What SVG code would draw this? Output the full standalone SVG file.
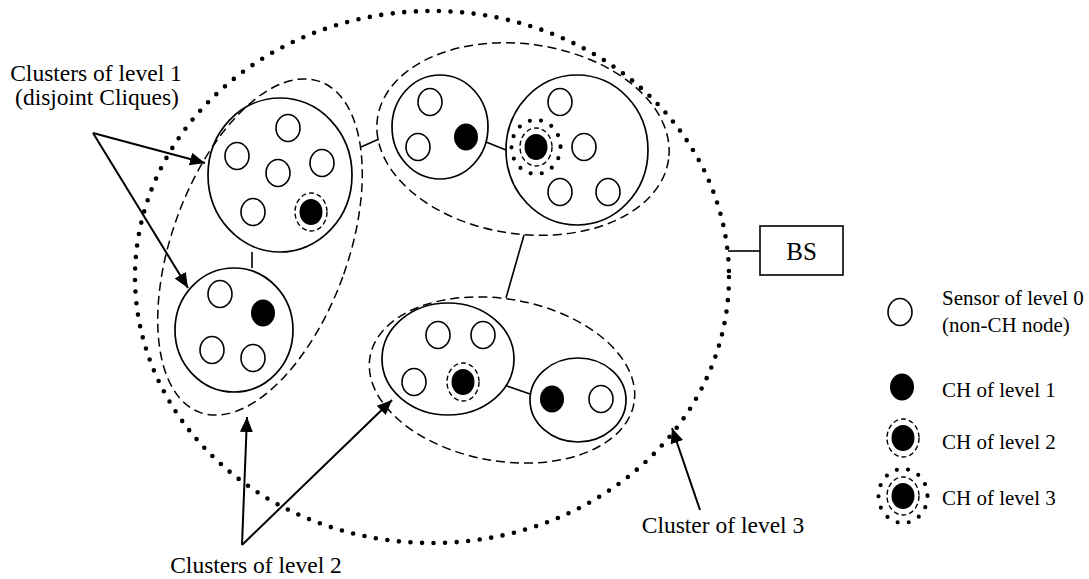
<svg xmlns="http://www.w3.org/2000/svg" width="1089" height="579" viewBox="0 0 1089 579">
<style>
  .txt{font-family:"Liberation Serif","Times New Roman",serif;fill:#000}
  .lbl{font-size:23.5px;text-anchor:middle}
  .leg{font-size:21px}
  .solid{fill:none;stroke:#000;stroke-width:1.7}
  .dash{fill:none;stroke:#000;stroke-width:1.5;stroke-dasharray:9 5}
  .dots{fill:none;stroke:#000;stroke-width:4.6;stroke-linecap:round;stroke-dasharray:0 11.6}
  .sensor{fill:#fff;stroke:#000;stroke-width:1.6}
  .ch{fill:#000}
  .ring2{fill:none;stroke:#000;stroke-width:1.4;stroke-dasharray:5 3}
  .ring3{fill:none;stroke:#000;stroke-width:4.2;stroke-linecap:round;stroke-dasharray:0 11.45}
  .link{stroke:#000;stroke-width:1.6;fill:none}
  .arrow{stroke:#000;stroke-width:2;fill:none;marker-end:url(#ah)}
</style>
<defs>
  <marker id="ah" markerUnits="userSpaceOnUse" markerWidth="16" markerHeight="14" refX="15" refY="6.5" orient="auto">
    <path d="M0,0 L15,6.5 L0,13 z" fill="#000"/>
  </marker>
  <g id="sensor"><ellipse rx="12" ry="13.5" class="sensor"/></g>
  <g id="ch1"><ellipse rx="12" ry="13.5" class="ch"/></g>
  <g id="ch2"><ellipse rx="11.5" ry="13" class="ch"/><ellipse rx="16" ry="19" class="ring2"/></g>
  <g id="ch3"><ellipse rx="11.5" ry="13" class="ch"/><ellipse rx="16" ry="19" class="ring2"/><ellipse rx="24.5" ry="27" class="ring3"/></g>
</defs>
<rect width="1089" height="579" fill="#fff"/>

<g id="cluster-level3">
  <ellipse cx="432" cy="277" rx="297" ry="266" class="dots"/>
</g>

<g id="bs">
  <rect x="760" y="226" width="83" height="49" fill="#fff" stroke="#000" stroke-width="1.6"/>
  <text x="801.5" y="260" class="txt" font-size="25" text-anchor="middle">BS</text>
</g>

<g id="cluster-level2-left">
  <ellipse cx="260" cy="247" rx="88" ry="176" transform="rotate(20 260 247)" class="dash"/>
</g>
<g id="cluster-level2-top">
  <ellipse cx="523" cy="139" rx="147" ry="95" transform="rotate(8 523 139)" class="dash"/>
</g>
<g id="cluster-level2-bottom">
  <ellipse cx="502" cy="380" rx="134" ry="81" transform="rotate(10 502 380)" class="dash"/>
</g>

<g id="clique-a">
  <ellipse cx="280" cy="175" rx="72" ry="77" class="solid"/>
  <use href="#sensor" x="288" y="128"/>
  <use href="#sensor" x="237" y="156"/>
  <use href="#sensor" x="322" y="163"/>
  <use href="#sensor" x="278" y="173"/>
  <use href="#sensor" x="253" y="212"/>
  <use href="#ch2" x="311" y="212"/>
</g>
<g id="clique-b">
  <ellipse cx="234" cy="330" rx="59" ry="62" class="solid"/>
  <use href="#sensor" x="220" y="294"/>
  <use href="#ch1" x="263" y="313"/>
  <use href="#sensor" x="212" y="350"/>
  <use href="#sensor" x="253" y="358"/>
</g>
<g id="clique-c">
  <ellipse cx="440" cy="127" rx="48" ry="52" class="solid"/>
  <use href="#sensor" x="430" y="102"/>
  <use href="#sensor" x="418" y="147"/>
  <use href="#ch1" x="466" y="137"/>
</g>
<g id="clique-d">
  <ellipse cx="577" cy="150" rx="71" ry="75" class="solid"/>
  <use href="#sensor" x="560" y="102"/>
  <use href="#ch3" x="536" y="147"/>
  <use href="#sensor" x="584" y="147"/>
  <use href="#sensor" x="560" y="192"/>
  <use href="#sensor" x="608" y="192"/>
</g>
<g id="clique-e">
  <ellipse cx="448" cy="359" rx="66" ry="56" class="solid"/>
  <use href="#sensor" x="438" y="335"/>
  <use href="#sensor" x="483" y="335"/>
  <use href="#sensor" x="414" y="382"/>
  <use href="#ch2" x="463" y="382"/>
</g>
<g id="clique-f">
  <ellipse cx="578" cy="400" rx="48" ry="42" class="solid"/>
  <use href="#ch1" x="552" y="399"/>
  <use href="#sensor" x="601" y="399"/>
</g>

<g id="connectors">
  <line x1="252" y1="252" x2="252" y2="268" class="link"/>
  <line x1="486" y1="142" x2="506" y2="150" class="link"/>
  <line x1="507" y1="386" x2="530" y2="394" class="link"/>
  <line x1="361" y1="147" x2="379" y2="139" class="link"/>
  <line x1="524" y1="235" x2="506" y2="298" class="link"/>
  <line x1="728" y1="251" x2="760" y2="251" class="link"/>
  <line x1="93" y1="133" x2="205" y2="163" class="arrow"/>
  <line x1="93" y1="133" x2="188" y2="288" class="arrow"/>
  <line x1="242" y1="545" x2="247" y2="417" class="arrow"/>
  <line x1="242" y1="545" x2="392" y2="400" class="arrow"/>
  <line x1="700" y1="510" x2="672" y2="428" class="arrow"/>
</g>

<g id="labels" class="txt">
  <text x="96" y="81" class="lbl">Clusters of level 1</text>
  <text x="97" y="105" class="lbl">(disjoint Cliques)</text>
  <text x="256" y="573" class="lbl">Clusters of level 2</text>
  <text x="723" y="533" class="lbl">Cluster of level 3</text>
</g>

<g id="legend" class="txt">
  <use href="#sensor" x="900" y="312"/>
  <text x="942" y="305" class="leg">Sensor of level 0</text>
  <text x="942" y="332" class="leg">(non-CH node)</text>
  <use href="#ch1" x="902" y="387"/>
  <text x="942" y="397" class="leg">CH of level 1</text>
  <use href="#ch2" x="903" y="438"/>
  <text x="942" y="449" class="leg">CH of level 2</text>
  <use href="#ch3" x="903" y="496"/>
  <text x="942" y="505" class="leg">CH of level 3</text>
</g>
</svg>
